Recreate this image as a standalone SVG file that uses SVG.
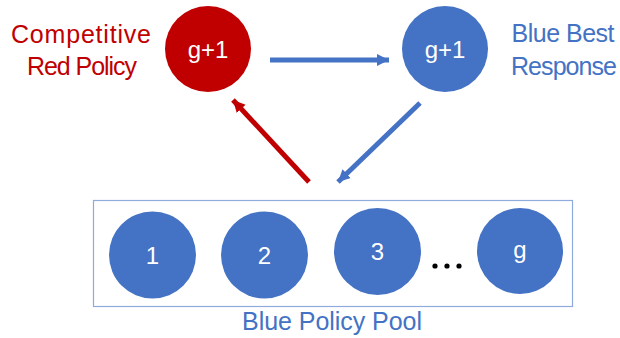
<svg xmlns="http://www.w3.org/2000/svg" width="620" height="338" viewBox="0 0 620 338">
  <style>
    .lbl { font-family: "Liberation Sans", Arial, sans-serif; font-size: 25px; text-anchor: middle; }
    .red { fill: #C00000; }
    .blue { fill: #4472C4; }
    .num { font-family: "Liberation Sans", Arial, sans-serif; font-size: 24px; fill: #FFFFFF; text-anchor: middle; }
    .conn { fill: none; stroke-width: 5; }
  </style>
  <defs>
    <marker id="headBlue" markerUnits="userSpaceOnUse" markerWidth="14" markerHeight="14" viewBox="0 0 14 14" refX="12" refY="7" orient="auto">
      <path d="M0,1 L12,7 L0,13 Z" fill="#4472C4"/>
    </marker>
    <marker id="headRed" markerUnits="userSpaceOnUse" markerWidth="14" markerHeight="14" viewBox="0 0 14 14" refX="12" refY="7" orient="auto">
      <path d="M0,1 L12,7 L0,13 Z" fill="#C00000"/>
    </marker>
  </defs>

  <rect width="620" height="338" fill="#FFFFFF"/>

  <!-- connectors -->
  <g id="connectors">
    <line class="conn" x1="270" y1="60" x2="389" y2="60" stroke="#4472C4" marker-end="url(#headBlue)"/>
    <line class="conn" x1="420" y1="103" x2="338" y2="182" stroke="#4472C4" marker-end="url(#headBlue)"/>
    <line class="conn" x1="309" y1="182" x2="233" y2="100" stroke="#C00000" marker-end="url(#headRed)"/>
  </g>

  <!-- red policy node -->
  <g id="red-policy">
    <circle cx="208" cy="49" r="43" fill="#C00000"/>
    <text class="num" x="208" y="58">g+1</text>
    <text class="lbl red" x="81" y="43" textLength="140">Competitive</text>
    <text class="lbl red" x="82" y="75" textLength="110">Red Policy</text>
  </g>

  <!-- blue best response node -->
  <g id="blue-best-response">
    <circle cx="445" cy="49" r="43" fill="#4472C4"/>
    <text class="num" x="445" y="58">g+1</text>
    <text class="lbl blue" x="563" y="42" textLength="103">Blue Best</text>
    <text class="lbl blue" x="564" y="75" textLength="106">Response</text>
  </g>

  <!-- blue policy pool -->
  <g id="blue-policy-pool">
    <rect x="93.5" y="200.5" width="479" height="106" fill="none" stroke="#8FAADC" stroke-width="1.2"/>
    <text class="lbl blue" x="332" y="330" textLength="180">Blue Policy Pool</text>
  </g>
  <g id="pool-1">
    <circle cx="152.5" cy="255" r="43.5" fill="#4472C4"/>
    <text class="num" x="152.5" y="264">1</text>
  </g>
  <g id="pool-2">
    <circle cx="264.5" cy="255" r="43.5" fill="#4472C4"/>
    <text class="num" x="264.5" y="264">2</text>
  </g>
  <g id="pool-3">
    <circle cx="377.5" cy="251.5" r="43.5" fill="#4472C4"/>
    <text class="num" x="377.5" y="260">3</text>
  </g>
  <g id="pool-ellipsis">
    <circle cx="435" cy="266" r="2.6" fill="#000000"/>
    <circle cx="447" cy="266" r="2.6" fill="#000000"/>
    <circle cx="459" cy="266" r="2.6" fill="#000000"/>
  </g>
  <g id="pool-g">
    <circle cx="520" cy="251" r="43" fill="#4472C4"/>
    <text class="num" x="520" y="258">g</text>
  </g>
</svg>
